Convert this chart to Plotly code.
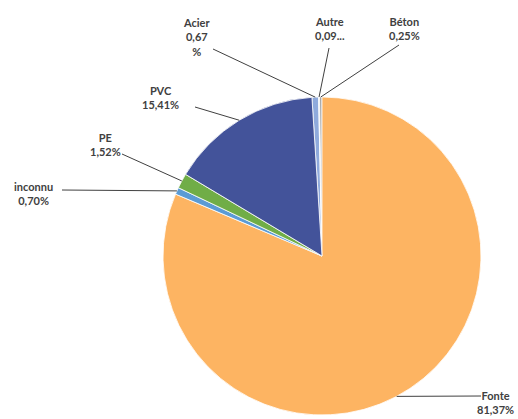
import math
import plotly.graph_objects as go

# Network material shares (%), in drawing order (clockwise)
materials = ["Acier", "Autre", "Béton", "Fonte", "inconnu", "PE", "PVC"]
shares = [0.67, 0.09, 0.25, 81.37, 0.70, 1.52, 15.41]
label_texts = ["Acier<br>0,67<br>%", "Autre<br>0,09...", "Béton<br>0,25%",
               "Fonte<br>81,37%", "inconnu<br>0,70%", "PE<br>1,52%", "PVC<br>15,41%"]
colors = ["#8FAADC", "#DCE4F4", "#A5A5A5", "#FDB462", "#5B9BD5", "#70AD47", "#43539A"]

W, H = 518, 419
CX, CY, R = 322, 256, 159  # pie centre and radius in pixels

total = sum(shares)
start_angle = -sum(shares[:3]) / total * 360.0  # Fonte begins at 12 o'clock


def px(x, y):
    return x / W, 1 - y / H


fig = go.Figure(go.Pie(
    labels=materials,
    values=shares,
    sort=False,
    direction="clockwise",
    rotation=start_angle,
    marker=dict(colors=colors, line=dict(color="white", width=0.8)),
    textinfo="none",
    hoverinfo="label+percent",
    showlegend=False,
    domain=dict(x=[(CX - R) / W, (CX + R) / W],
                y=[(H - CY - R) / H, (H - CY + R) / H]),
))

# label placement: text anchor, leader start, and where the leader meets the pie
label_layout = {
    "Acier":   dict(text_xy=(196, 37), lead=(213, 49)),
    "Autre":   dict(text_xy=(330, 29), lead=(329, 48)),
    "Béton":   dict(text_xy=(404, 29), lead=(399, 45)),
    "Fonte":   dict(text_xy=(516, 402), lead=(481, 396), attach=152.0, anchor="right"),
    "inconnu": dict(text_xy=(33, 193), lead=(62, 190)),
    "PE":      dict(text_xy=(105, 144), lead=(122, 154)),
    "PVC":     dict(text_xy=(160, 97), lead=(195, 107)),
}

shapes = []
annotations = []
cum = 0.0
for name, val, txt in zip(materials, shares, label_texts):
    mid = start_angle + (cum + val / 2) / total * 360.0
    cum += val
    spec = label_layout[name]
    ang = math.radians(spec.get("attach", mid))
    ex = CX + R * math.sin(ang)
    ey = CY - R * math.cos(ang)
    x0, y0 = px(*spec["lead"])
    x1, y1 = px(ex, ey)
    shapes.append(dict(type="line", xref="paper", yref="paper",
                       x0=x0, y0=y0, x1=x1, y1=y1,
                       line=dict(color="#404040", width=1)))
    tx, ty = px(*spec["text_xy"])
    annotations.append(dict(text=txt, xref="paper", yref="paper",
                            x=tx, y=ty, xanchor=spec.get("anchor", "center"),
                            yanchor="middle",
                            showarrow=False, align="center",
                            font=dict(family="Lato", size=11, color="#404040",
                                      weight="bold")))

fig.update_layout(
    width=W, height=H,
    margin=dict(l=0, r=0, t=0, b=0),
    paper_bgcolor="white",
    plot_bgcolor="white",
    shapes=shapes,
    annotations=annotations,
)

fig.write_html("out.html")
